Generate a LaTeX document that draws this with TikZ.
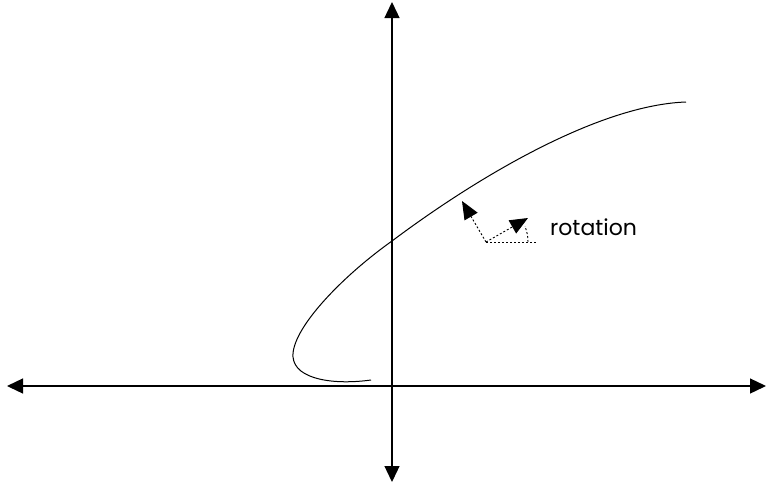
\documentclass[tikz,border=0pt]{standalone}
\usepackage{fontspec}
\setmainfont{Poppins}
\usetikzlibrary{arrows.meta}
\begin{document}
\begin{tikzpicture}[x=1pt,y=-1pt,
  axis/.style={line width=1.3pt,{Triangle[length=16pt,width=15pt]}-{Triangle[length=16pt,width=15pt]}},
  curve/.style={line width=1pt},
  dotline/.style={line width=0.9pt,dash pattern=on 2pt off 2pt},
  rotarrow/.style={dotline,-{Triangle[length=18pt,width=15pt]}},
  lbl/.style={font=\fontsize{22}{26}\selectfont,anchor=base west,inner sep=0pt}]
\useasboundingbox (0,0) rectangle (766,483);
\coordinate (xl) at (7,386);
\coordinate (xr) at (766,386);
\coordinate (yt) at (392,2);
\coordinate (yb) at (392,482);
\draw[axis] (xl) -- (xr);
\draw[axis] (yt) -- (yb);
\draw[curve] (371,380) .. controls (335,385) and (295,380) .. (293,357)
  .. controls (291,330) and (340,278) .. (392,241)
  .. controls (480,175) and (600,105) .. (686,102);
\coordinate (O) at (486,242);
\coordinate (A) at (462,201);
\coordinate (B) at (528,218);
\coordinate (H) at (536,242);
\draw[rotarrow] (O) -- (A);
\draw[rotarrow] (O) -- (B);
\draw[dotline] (O) -- (H);
\draw[dotline] (528,242) arc[start angle=0,end angle=-22,radius=42];
\node[lbl] (rot) at (550,235) {rotation};
\end{tikzpicture}
\end{document}
